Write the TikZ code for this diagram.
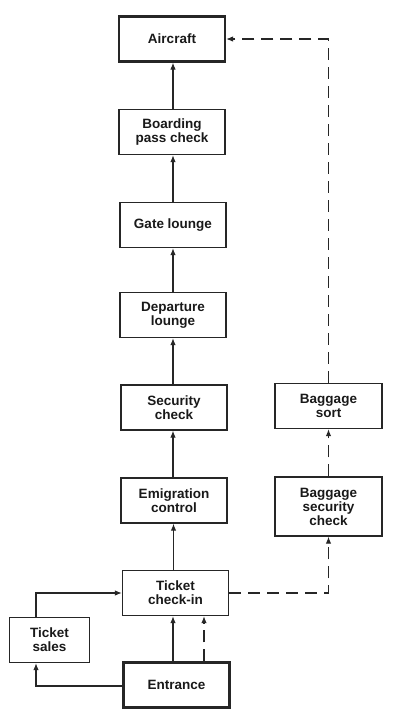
\documentclass[tikz,border=0pt]{standalone}
\usepackage{fontspec}
\setmainfont{Liberation Sans}
\usetikzlibrary{arrows.meta}
\begin{document}
\begin{tikzpicture}[x=1pt,y=-1pt,
  stage/.style={draw=black!85, line width=1.3pt, minimum width=106pt, minimum height=45pt,
    align=center, inner sep=2pt, text=black!90,
    font=\bfseries\fontsize{13.5}{14}\selectfont},
  heavy/.style={stage, line width=2.2pt},
  flow/.style={line width=1.1pt, draw=black!85, -{Latex[length=7pt,width=5.5pt]}},
  bagflow/.style={flow, dash pattern=on 12pt off 7pt}]
\useasboundingbox (0,0) rectangle (409,721);
% main passenger column
\node[heavy] (aircraft) at (172,39) {Aircraft};
\node[stage] (boarding) at (172,132) {Boarding\\pass check};
\node[stage] (gate) at (173,225) {Gate lounge};
\node[stage] (departure) at (173,315) {Departure\\lounge};
\node[stage] (security) at (174,407.5) {Security\\check};
\node[stage] (emigration) at (174,500.5) {Emigration\\control};
\node[stage] (checkin) at (175.5,593) {Ticket\\check-in};
\node[heavy] (entrance) at (176.5,685) {Entrance};
\node[stage, minimum width=80pt] (sales) at (49.5,640) {Ticket\\sales};
% baggage column
\node[stage, minimum width=107pt] (bsort) at (328.5,406) {Baggage\\sort};
\node[stage, minimum width=107pt, minimum height=59pt] (bsec) at (328.5,506.5) {Baggage\\security\\check};
% passenger flow
\draw[flow] ([xshift=-3.5pt]entrance.north) -- ([xshift=-3.5pt]entrance.north |- checkin.south);
\draw[flow] ([xshift=-2pt]checkin.north) -- ([xshift=-2pt]checkin.north |- emigration.south);
\draw[flow] ([xshift=-1pt]emigration.north) -- ([xshift=-1pt]emigration.north |- security.south);
\draw[flow] ([xshift=-1pt]security.north) -- ([xshift=-1pt]security.north |- departure.south);
\draw[flow] (departure.north) -- (departure.north |- gate.south);
\draw[flow] (gate.north) -- (gate.north |- boarding.south);
\draw[flow] ([xshift=1pt]boarding.north) -- ([xshift=1pt]boarding.north |- aircraft.south);
\draw[flow] ([yshift=-1pt]entrance.west) -| ([xshift=-13.5pt]sales.south);
\draw[flow] ([xshift=-13.5pt]sales.north) |- (checkin.west);
% baggage flow
\draw[bagflow] ([xshift=27.5pt]entrance.north) -- ([xshift=27.5pt]entrance.north |- checkin.south);
\draw[bagflow] (checkin.east) -| (bsec.south);
\draw[bagflow] (bsec.north) -- (bsort.south);
\draw[bagflow] (bsort.north) |- (aircraft.east);
\end{tikzpicture}
\end{document}
